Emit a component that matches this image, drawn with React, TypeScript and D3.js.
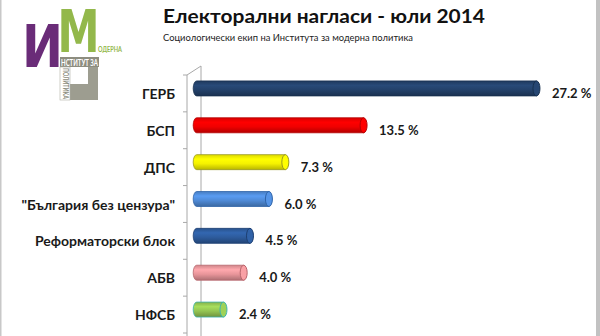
import React from "react";
import * as d3 from "d3";

const categories = ["ГЕРБ", "БСП", "ДПС", "\"България без цензура\"", "Реформаторски блок", "АБВ", "НФСБ"];
const values = [27.2, 13.5, 7.3, 6.0, 4.5, 4.0, 2.4];
const valueLabels = ["27.2 %", "13.5 %", "7.3 %", "6.0 %", "4.5 %", "4.0 %", "2.4 %"];
const barColors = ["#23416a", "#f00000", "#f5f200", "#4f8ad6", "#2d5b9c", "#e8959a", "#93c452"];
const rimColors = ["#16304f", "#b40000", "#9a9a20", "#2e63a8", "#1d3f72", "#b8646b", "#3cb4b0"];
const title = "Електорални нагласи - юли 2014";
const subtitle = "Социологически екип на Института за модерна политика";

const W = 600;
const H = 336;
const FONT = "Lato, 'Open Sans', sans-serif";

export default function App() {
  const x = d3.scaleLinear().domain([0, 30]).range([196.7, 575.3]);
  const y = d3.scaleBand<string>().domain(categories).range([75, 333]).paddingInner(0).paddingOuter(0);
  const depthX = 14;
  const depthY = -9;
  const axisX = 187;
  const barH = 15;
  const capRx = 3.5;
  const bw = y.bandwidth();
  const ticks = d3.range(categories.length + 1).map((i) => 75 + i * bw);

  return (
    <svg width={W} height={H} style={{ position: "absolute", left: 0, top: 0, background: "#fff" }} fontFamily={FONT}>
      <defs>
        {barColors.map((c, i) => {
          const col = d3.color(c)!;
          return (
            <linearGradient key={i} id={`g${i}`} x1="0" y1="0" x2="0" y2="1">
              <stop offset="0" stopColor={d3.color(c)!.darker(0.3).toString()} />
              <stop offset="0.3" stopColor={col.brighter(0.35).toString()} />
              <stop offset="0.6" stopColor={c} />
              <stop offset="1" stopColor={d3.color(c)!.darker(0.8).toString()} />
            </linearGradient>
          );
        })}
      </defs>
      <rect x={0} y={0} width={W} height={H} fill="#fff" />
      {/* frame edges */}
      <rect x={596} y={0} width={4} height={H} fill="#c2c2c2" />
      <rect x={0} y={0} width={1.5} height={H} fill="#c8c8c8" />

      {/* logo */}
      <text x={22} y={67} fontSize={58} fontWeight={900} fill="#6a2c78" textLength={41} lengthAdjust="spacingAndGlyphs" fontFamily="'DejaVu Sans', sans-serif">И</text>
      <text x={57.5} y={52} fontSize={58} fontWeight={900} fill="#93b84b" textLength={42} lengthAdjust="spacingAndGlyphs" fontFamily="'DejaVu Sans', sans-serif">M</text>
      <text x={98} y={52} fontSize={8} fontWeight={700} fill="#93b84b" textLength={24} lengthAdjust="spacingAndGlyphs">ОДЕРНА</text>
      <rect x={60} y={57} width={39} height={10} fill="#8d8d80" />
      <text x={61} y={65.5} fontSize={9} fontWeight={700} fill="#fff" textLength={37} lengthAdjust="spacingAndGlyphs">НСТИТУТ ЗА</text>
      <rect x={88} y={67} width={10} height={33} fill="#9d9d90" />
      <rect x={70} y={84} width={28} height={16} fill="#9d9d90" />
      <rect x={60} y={67} width={10} height={33} fill="#fff" stroke="#b0b0a4" strokeWidth={0.6} />
      <text transform="translate(62.5,68) rotate(90)" fontSize={8} fontWeight={700} fill="#8d8d80" textLength={31} lengthAdjust="spacingAndGlyphs">ПОЛИТИКА</text>

      {/* titles */}
      <text x={163} y={23} fontSize={18} fontWeight={700} fill="#111" textLength={322} lengthAdjust="spacingAndGlyphs">{title}</text>
      <text x={163} y={40.5} fontSize={10} fill="#222" textLength={250} lengthAdjust="spacingAndGlyphs">{subtitle}</text>

      {/* 3D axis wall */}
      <g stroke="#a8a8a8" strokeWidth={1} fill="none">
        <line x1={axisX} y1={75} x2={axisX} y2={H} />
        <line x1={axisX + depthX} y1={75 + depthY} x2={axisX + depthX} y2={H} />
        <line x1={axisX} y1={75} x2={axisX + depthX} y2={75 + depthY} />
        {ticks.map((t, i) => (
          <line key={i} x1={axisX - 4} y1={t} x2={axisX} y2={t} />
        ))}
      </g>

      {/* bars */}
      {categories.map((c, i) => {
        const bandCenter = (y(c) as number) + bw / 2;
        const cy = bandCenter + depthY / 2 - 0.5;
        const x0 = x(0);
        const x1 = x(values[i]);
        const top = cy - barH / 2;
        const path = `M${x1 - capRx},${top} L${x0},${top} A${capRx},${barH / 2} 0 0 0 ${x0},${top + barH} L${x1 - capRx},${top + barH} Z`;
        return (
          <g key={c}>
            <path d={path} fill={`url(#g${i})`} stroke={rimColors[i]} strokeWidth={0.8} />
            <ellipse cx={x1 - capRx} cy={cy} rx={capRx} ry={barH / 2} fill={d3.color(barColors[i])!.brighter(0.2).toString()} stroke={rimColors[i]} strokeWidth={1} />
            <text x={axisX - 12} y={bandCenter + 5.5} textAnchor="end" fontSize={14} fontWeight={700} fill="#1a1a1a">{c}</text>
            <text x={x1 + 12} y={bandCenter + 4.5} fontSize={13} fontWeight={700} fill="#1a1a1a">{valueLabels[i]}</text>
          </g>
        );
      })}
    </svg>
  );
}
